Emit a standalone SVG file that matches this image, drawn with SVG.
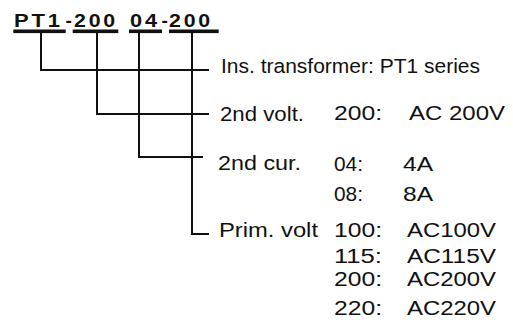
<svg xmlns="http://www.w3.org/2000/svg" width="513" height="324" viewBox="0 0 513 324">
<style>
.t{font-family:"Liberation Sans",Arial,Helvetica,sans-serif;font-size:20.5px;fill:#111}
.h{font-family:"Liberation Sans",Arial,Helvetica,sans-serif;font-size:19px;font-weight:bold;fill:#111}
.s{letter-spacing:2.5px}
.u{fill:#111}
.c{fill:none;stroke:#111;stroke-width:2}
</style>
<rect width="513" height="324" fill="#fff"/>
<g id="code">
<text class="h s" x="14" y="27" textLength="49" lengthAdjust="spacingAndGlyphs">PT1</text>
<text class="h" x="65.5" y="27">-</text>
<text class="h s" x="74" y="27" textLength="44" lengthAdjust="spacingAndGlyphs">200</text>
<text class="h s" x="130" y="27" textLength="30" lengthAdjust="spacingAndGlyphs">04</text>
<text class="h" x="161.5" y="27">-</text>
<text class="h s" x="169" y="27" textLength="44" lengthAdjust="spacingAndGlyphs">200</text>
<rect class="u" x="13.3" y="29.5" width="52.4" height="3.6"/>
<rect class="u" x="72.7" y="29.5" width="45.6" height="3.6"/>
<rect class="u" x="129" y="29.5" width="33" height="3.6"/>
<rect class="u" x="169" y="29.5" width="49.7" height="3.6"/>
</g>
<g id="connectors">
<polyline class="c" points="41,33 41,70 209,70"/>
<polyline class="c" points="97,33 97,114 209,114"/>
<polyline class="c" points="139,33 139,157 203,157"/>
<polyline class="c" points="192,33 192,234 209,234"/>
</g>
<g id="ins">
<text class="t" x="221" y="73" textLength="259" lengthAdjust="spacingAndGlyphs">Ins. transformer: PT1 series</text>
</g>
<g id="volt2">
<text class="t" x="220" y="121" textLength="84" lengthAdjust="spacingAndGlyphs">2nd volt.</text>
<text class="t" x="334" y="120" textLength="48" lengthAdjust="spacingAndGlyphs">200:</text>
<text class="t" x="409" y="120" textLength="96" lengthAdjust="spacingAndGlyphs">AC 200V</text>
</g>
<g id="cur2">
<text class="t" x="218" y="170" textLength="83" lengthAdjust="spacingAndGlyphs">2nd cur.</text>
<text class="t" x="334" y="171" textLength="29" lengthAdjust="spacingAndGlyphs">04:</text>
<text class="t" x="403" y="171" textLength="30" lengthAdjust="spacingAndGlyphs">4A</text>
<text class="t" x="334" y="201" textLength="29" lengthAdjust="spacingAndGlyphs">08:</text>
<text class="t" x="403" y="201" textLength="30" lengthAdjust="spacingAndGlyphs">8A</text>
</g>
<g id="prim">
<text class="t" x="219" y="236.5" textLength="99" lengthAdjust="spacingAndGlyphs">Prim. volt</text>
<text class="t" x="334" y="236.5" textLength="48" lengthAdjust="spacingAndGlyphs">100:</text>
<text class="t" x="407" y="236.5" textLength="89" lengthAdjust="spacingAndGlyphs">AC100V</text>
<text class="t" x="334" y="263" textLength="48" lengthAdjust="spacingAndGlyphs">115:</text>
<text class="t" x="407" y="263" textLength="89" lengthAdjust="spacingAndGlyphs">AC115V</text>
<text class="t" x="334" y="286" textLength="48" lengthAdjust="spacingAndGlyphs">200:</text>
<text class="t" x="407" y="286" textLength="89" lengthAdjust="spacingAndGlyphs">AC200V</text>
<text class="t" x="334" y="315" textLength="48" lengthAdjust="spacingAndGlyphs">220:</text>
<text class="t" x="407" y="315" textLength="89" lengthAdjust="spacingAndGlyphs">AC220V</text>
</g>
</svg>
